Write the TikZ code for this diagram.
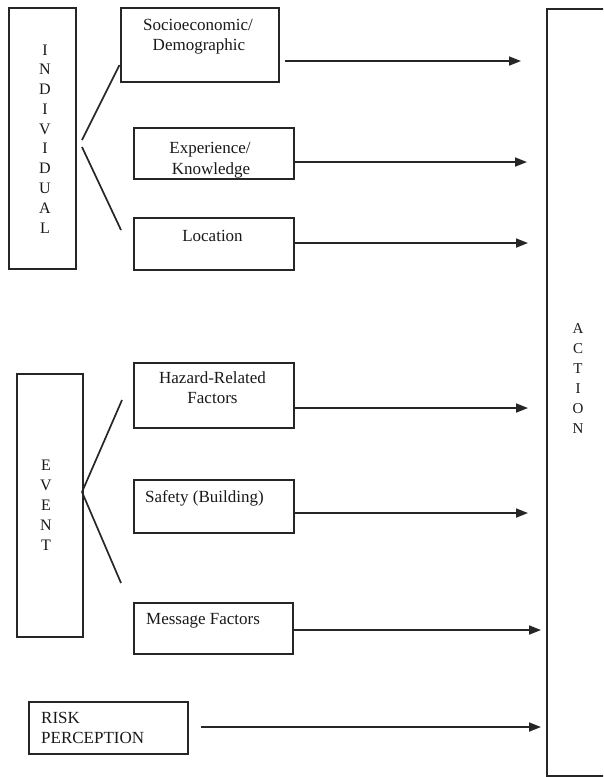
\documentclass[tikz,border=0pt]{standalone}
\usepackage{fontspec}
\setmainfont{Liberation Serif}
\usetikzlibrary{arrows.meta}
\begin{document}
\begin{tikzpicture}[x=1pt,y=-1pt,
  boxline/.style={draw=black!85, line width=1.8pt, inner sep=0pt, anchor=north west},
  conn/.style={draw=black!85, line width=1.7pt},
  arr/.style={conn, -{Triangle[length=12pt,width=9pt]}},
  lbl/.style={inner sep=0pt, anchor=base, font=\fontsize{17}{20}\selectfont, text=black!90},
  lbll/.style={lbl, anchor=base west},
  vl/.style={inner sep=0pt, anchor=base, font=\fontsize{16}{20}\selectfont, text=black!90}]
\clip (0,0) rectangle (603,777);
\fill[white] (0,0) rectangle (603,777);
% boxes
\node[boxline, minimum width=67pt, minimum height=261pt] (ind) at (8,7) {};
\node[boxline, minimum width=158pt, minimum height=74pt] (soc) at (120,7) {};
\node[boxline, minimum width=160pt, minimum height=51pt] (exp) at (133,127) {};
\node[boxline, minimum width=160pt, minimum height=52pt] (loc) at (133,217) {};
\node[boxline, minimum width=66pt, minimum height=263pt] (evt) at (16,373) {};
\node[boxline, minimum width=160pt, minimum height=65pt] (haz) at (133,362) {};
\node[boxline, minimum width=160pt, minimum height=53pt] (saf) at (133,479) {};
\node[boxline, minimum width=159pt, minimum height=51pt] (msg) at (133,602) {};
\node[boxline, minimum width=159pt, minimum height=52pt] (risk) at (28,701) {};
\node[boxline, minimum width=100pt, minimum height=767pt] (act) at (546,8) {};
% texts
\node[lbl] (soc1) at (198,30) {Socioeconomic/};
\node[lbl] (soc2) at (199,50) {Demographic};
\node[lbl] (exp1) at (210,153) {Experience/};
\begin{scope}
  \clip ([xshift=1pt,yshift=-1pt]exp.north west) rectangle ([xshift=-1pt,yshift=1pt]exp.south east);
  \node[lbl] (exp2) at (211,174) {Knowledge};
\end{scope}
\node[lbl] (loc1) at (212.5,241) {Location};
\node[lbl] (haz1) at (212.5,383) {Hazard-Related};
\node[lbl] (haz2) at (212.5,403) {Factors};
\node[lbll] (saf1) at (145,502) {Safety (Building)};
\node[lbll] (msg1) at (146,624) {Message Factors};
\node[lbll] (risk1) at (41,723) {RISK};
\node[lbll] (risk2) at (41,743) {PERCEPTION};
\foreach \ch [count=\i from 0] in {I,N,D,I,V,I,D,U,A,L}
  \node[vl] (indl\i) at (45,55+19.78*\i) {\ch};
\foreach \ch [count=\i from 0] in {E,V,E,N,T}
  \node[vl] (evtl\i) at (46,470+20*\i) {\ch};
\foreach \ch [count=\i from 0] in {A,C,T,I,O,N}
  \node[vl, font=\fontsize{15}{20}\selectfont] (actl\i) at (578,333+20*\i) {\ch};
% fan lines
\coordinate (f1a) at (82,140);
\coordinate (f1b) at (82,147);
\coordinate (t1a) at (119.5,65);
\coordinate (t1b) at (121,230);
\coordinate (f2) at (82,492);
\coordinate (t2a) at (122,400);
\coordinate (t2b) at (121,583);
\draw[conn] (f1a) -- (t1a);
\draw[conn] (f1b) -- (t1b);
\draw[conn] (f2) -- (t2a);
\draw[conn] (f2) -- (t2b);
% arrows
\coordinate (a1) at (521,61);
\coordinate (a2) at (527,162);
\coordinate (a3) at (528,243);
\coordinate (a4) at (528,408);
\coordinate (a5) at (528,513);
\coordinate (a6) at (541,630);
\coordinate (a7) at (541,727);
\draw[arr] ([xshift=5pt]soc.east |- a1) -- (a1);
\draw[arr] (exp.east |- a2) -- (a2);
\draw[arr] (loc.east |- a3) -- (a3);
\draw[arr] (haz.east |- a4) -- (a4);
\draw[arr] (saf.east |- a5) -- (a5);
\draw[arr] (msg.east |- a6) -- (a6);
\draw[arr] ([xshift=12pt]risk.east |- a7) -- (a7);
\end{tikzpicture}
\end{document}
